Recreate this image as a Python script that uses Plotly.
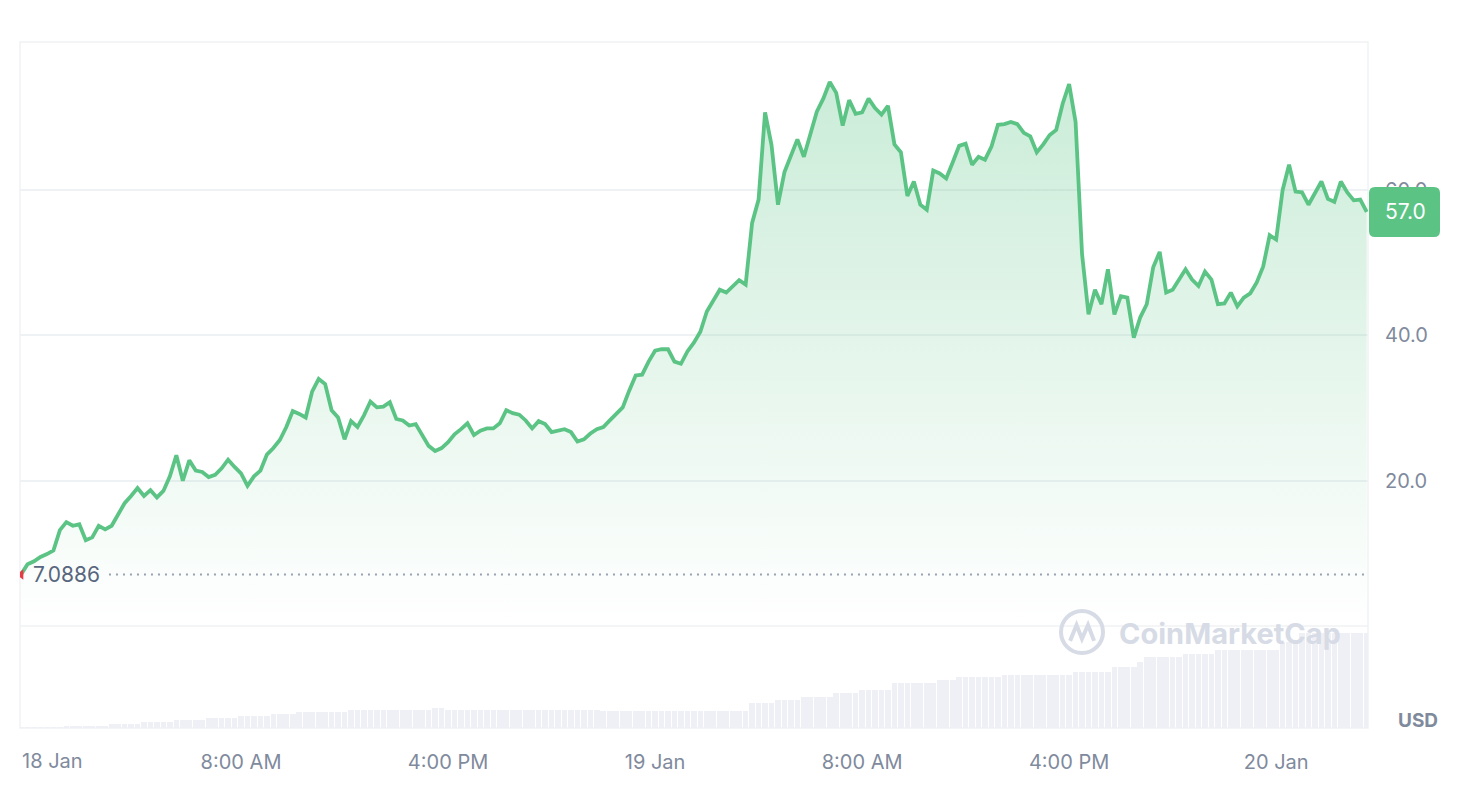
import pandas as pd
import plotly.graph_objects as go

# price samples every 15 minutes, 17 Jan 23:30 -> 20 Jan 03:30
start_time = "2024-01-17 23:30"
step = "15min"
price = [
    7.1, 8.5, 8.9, 9.5, 9.9, 10.4, 13.2, 14.3, 13.8, 14.0,
    11.8, 12.2, 13.8, 13.3, 13.8, 15.4, 16.9, 17.9, 19.0, 17.9,
    18.7, 17.7, 18.6, 20.6, 23.5, 20.0, 22.8, 21.4, 21.2, 20.5,
    20.8, 21.7, 22.9, 21.9, 21.0, 19.3, 20.6, 21.4, 23.6, 24.5,
    25.6, 27.4, 29.6, 29.2, 28.7, 32.3, 34.0, 33.3, 29.7, 28.7,
    25.7, 28.2, 27.4, 29.0, 30.9, 30.1, 30.2, 30.8, 28.5, 28.3,
    27.6, 27.8, 26.3, 24.8, 24.1, 24.5, 25.3, 26.4, 27.1, 27.9,
    26.3, 26.9, 27.2, 27.2, 27.9, 29.7, 29.3, 29.1, 28.3, 27.2,
    28.2, 27.8, 26.7, 26.9, 27.1, 26.7, 25.4, 25.7, 26.5, 27.1,
    27.4, 28.3, 29.2, 30.1, 32.4, 34.5, 34.6, 36.4, 37.9, 38.1,
    38.1, 36.4, 36.1, 37.8, 39.0, 40.5, 43.3, 44.9, 46.3, 45.9,
    46.8, 47.6, 47.0, 55.5, 58.7, 70.7, 66.2, 58.0, 62.5, 64.8,
    67.0, 64.6, 67.6, 70.8, 72.6, 74.9, 73.4, 68.9, 72.4, 70.5,
    70.7, 72.6, 71.3, 70.4, 71.6, 66.3, 65.2, 59.2, 61.2, 58.0,
    57.3, 62.7, 62.3, 61.6, 63.8, 66.1, 66.4, 63.5, 64.6, 64.2,
    66.0, 69.0, 69.1, 69.4, 69.1, 67.9, 67.4, 65.2, 66.3, 67.6,
    68.3, 71.9, 74.6, 69.4, 51.2, 42.9, 46.3, 44.3, 49.1, 42.9,
    45.4, 45.2, 39.7, 42.5, 44.3, 49.4, 51.5, 45.9, 46.3, 47.6,
    49.1, 47.7, 46.8, 48.8, 47.7, 44.3, 44.4, 45.9, 44.0, 45.2,
    45.8, 47.3, 49.5, 53.8, 53.2, 60.0, 63.5, 59.8, 59.7, 58.0,
    59.7, 61.2, 58.8, 58.4, 61.2, 59.7, 58.6, 58.7, 57.0,
]
# volume bars (relative units), same timestamps
volume = [
    0.3, 0.3, 0.3, 0.3, 0.3, 0.3, 0.3,
    2, 2, 2, 2, 2, 2, 2,
    4, 4, 4, 4, 4,
    6, 6, 6, 6, 6,
    8, 8, 8, 8, 8,
    10, 10, 10, 10, 10,
    12, 12, 12, 12, 12,
    14, 14, 14, 14,
    16, 16, 16, 16, 16, 16, 16, 16,
    18, 18, 18, 18, 18, 18, 18, 18, 18, 18, 18, 18, 18,
    20, 20,
    18, 18, 18, 18, 18, 18, 18, 18, 18, 18, 18, 18,
    18, 18, 18, 18, 18, 18, 18, 18, 18, 18, 18, 18,
    17, 17, 17, 17, 17, 17, 17, 17, 17, 17, 17, 17,
    17, 17, 17, 17, 17, 17, 17, 17, 17, 17, 17,
    25, 25, 25, 25,
    28, 28, 28, 28,
    31, 31, 31, 31, 31,
    35, 35, 35, 35,
    38, 38, 38, 38, 38,
    45, 45, 45, 45, 45, 45, 45,
    48, 48, 48,
    51, 51, 51, 51, 51, 51, 51,
    53, 53, 53, 53, 53, 53, 53, 53, 53, 53, 53,
    56, 56, 56, 56, 56, 56,
    61, 61, 61, 61,
    66,
    71, 71, 71, 71, 71, 71,
    74, 74, 74, 74, 74,
    78, 78, 78, 78, 78, 78, 78, 78, 78, 78,
    86, 86, 86,
    95, 95, 95, 95, 95, 95, 95, 95, 95, 95, 95,
]
open_price = 7.0886
tick_times = ["2024-01-18 08:00", "2024-01-18 16:00", "2024-01-19 00:00",
              "2024-01-19 08:00", "2024-01-19 16:00", "2024-01-20 00:00"]
tick_text = ["8:00 AM", "4:00 PM", "19 Jan", "8:00 AM", "4:00 PM", "20 Jan"]
price_ticks = [20, 40, 60]
price_tick_text = ["20.0", "40.0", "60.0"]

times = pd.date_range(start_time, periods=len(price), freq=step)

GREEN = "#5bc485"
GREY = "#808a9d"
BORDER = "#eff2f5"
MARK = "#d6dbe6"

fig = go.Figure()

fig.add_trace(go.Bar(
    x=times, y=volume, yaxis="y2",
    width=15 * 60 * 1000 * 0.88,
    marker=dict(color="#eff0f5", line_width=0),
    hoverinfo="skip",
))

fig.add_trace(go.Scatter(
    x=times, y=price, mode="lines",
    line=dict(color=GREEN, width=3.8),
    fill="tozeroy",
    fillgradient=dict(type="vertical",
                      colorscale=[[0, "rgba(91,196,133,0.0)"],
                                  [1, "rgba(91,196,133,0.32)"]]),
))

fig.add_trace(go.Scatter(
    x=[times[0]], y=[open_price], mode="markers",
    marker=dict(symbol="triangle-left", size=9, color="#ea3943"),
    hoverinfo="skip",
))

split = (728 - 626) / 686

# page body adds an 8px margin, so the figure is 8px smaller on each side
fig.update_layout(
    width=1456, height=792,
    margin=dict(l=12, r=96, t=34, b=72),
    paper_bgcolor="white", plot_bgcolor="white",
    showlegend=False,
    bargap=0,
    font=dict(family="Inter", color=GREY, size=20),
    xaxis=dict(
        anchor="y2",
        range=["2024-01-17 23:27:30", "2024-01-20 03:33"],
        tickvals=tick_times, ticktext=tick_text,
        showgrid=False, zeroline=False,
        ticks="outside", ticklen=16, tickcolor="rgba(0,0,0,0)",
        tickfont=dict(size=20, color=GREY),
    ),
    yaxis=dict(
        domain=[split, 1], range=[0, 80.4],
        side="right", tickvals=price_ticks, ticktext=price_tick_text,
        showgrid=True, gridcolor=BORDER, gridwidth=1.5, zeroline=False,
        ticks="outside", ticklen=12, tickcolor="rgba(0,0,0,0)",
        tickfont=dict(size=20, color=GREY),
    ),
    yaxis2=dict(
        domain=[0, split], range=[0, 102],
        showticklabels=False, showgrid=False, zeroline=False,
    ),
)

shapes = [
    # outer frame
    dict(type="rect", xref="paper", yref="paper", x0=0, x1=1, y0=0, y1=1,
         line=dict(color=BORDER, width=1.5), layer="below"),
    # price / volume separator
    dict(type="line", xref="paper", yref="paper", x0=0, x1=1, y0=split, y1=split,
         line=dict(color=BORDER, width=1.5), layer="below"),
    # open price dotted line
    dict(type="line", xref="paper", yref="y", x0=0.066, x1=1,
         y0=open_price, y1=open_price,
         line=dict(color="#9aa2b1", width=1.8, dash="2px,5px")),
    # last-price badge
    dict(type="path", xref="paper", xsizemode="pixel", xanchor=1,
         yref="y", ysizemode="pixel", yanchor=price[-1],
         path="M 7 -25 L 66 -25 Q 72 -25 72 -19 L 72 19 Q 72 25 66 25 "
              "L 7 25 Q 1 25 1 19 L 1 -19 Q 1 -25 7 -25 Z",
         fillcolor=GREEN, line=dict(width=0), layer="above"),
    # watermark logo
    dict(type="circle", xref="paper", yref="paper",
         x0=(1061 - 20) / 1348, x1=(1103 - 20) / 1348,
         y0=(728 - 653) / 686, y1=(728 - 611) / 686,
         line=dict(color=MARK, width=4)),
    dict(type="path", xref="paper", yref="paper",
         path="M 0.7790 0.1270 L 0.7838 0.1501 L 0.7878 0.1300 "
              "L 0.7923 0.1501 L 0.7968 0.1270",
         line=dict(color=MARK, width=4)),
]
fig.update_layout(shapes=shapes)

fig.add_annotation(
    x=1, xref="paper", xanchor="center", xshift=37,
    y=price[-1], yref="y", yanchor="middle",
    text=f"{price[-1]:.1f}", showarrow=False,
    font=dict(size=21, color="white"),
)
fig.add_annotation(
    x=0.008, xref="paper", xanchor="left",
    y=open_price, yref="y", yanchor="middle",
    text=f"{open_price}", showarrow=False,
    font=dict(size=21, color="#58667e"),
)
fig.add_annotation(
    x=0, xref="paper", xanchor="left", y=0, yref="paper", yanchor="top",
    yshift=-19, text="18 Jan", showarrow=False,
    font=dict(size=20, color=GREY),
)
fig.add_annotation(
    x=(1418 - 20) / 1348, xref="paper", xanchor="center",
    y=(728 - 720) / 686, yref="paper", yanchor="middle",
    text="<b>USD</b>", showarrow=False,
    font=dict(size=19, color=GREY),
)
fig.add_annotation(
    x=(1230 - 20) / 1348, xref="paper", xanchor="center",
    y=(728 - 633) / 686, yref="paper", yanchor="middle",
    text="<b>CoinMarketCap</b>", showarrow=False,
    font=dict(size=29, color=MARK),
)

fig.write_html("out.html")
